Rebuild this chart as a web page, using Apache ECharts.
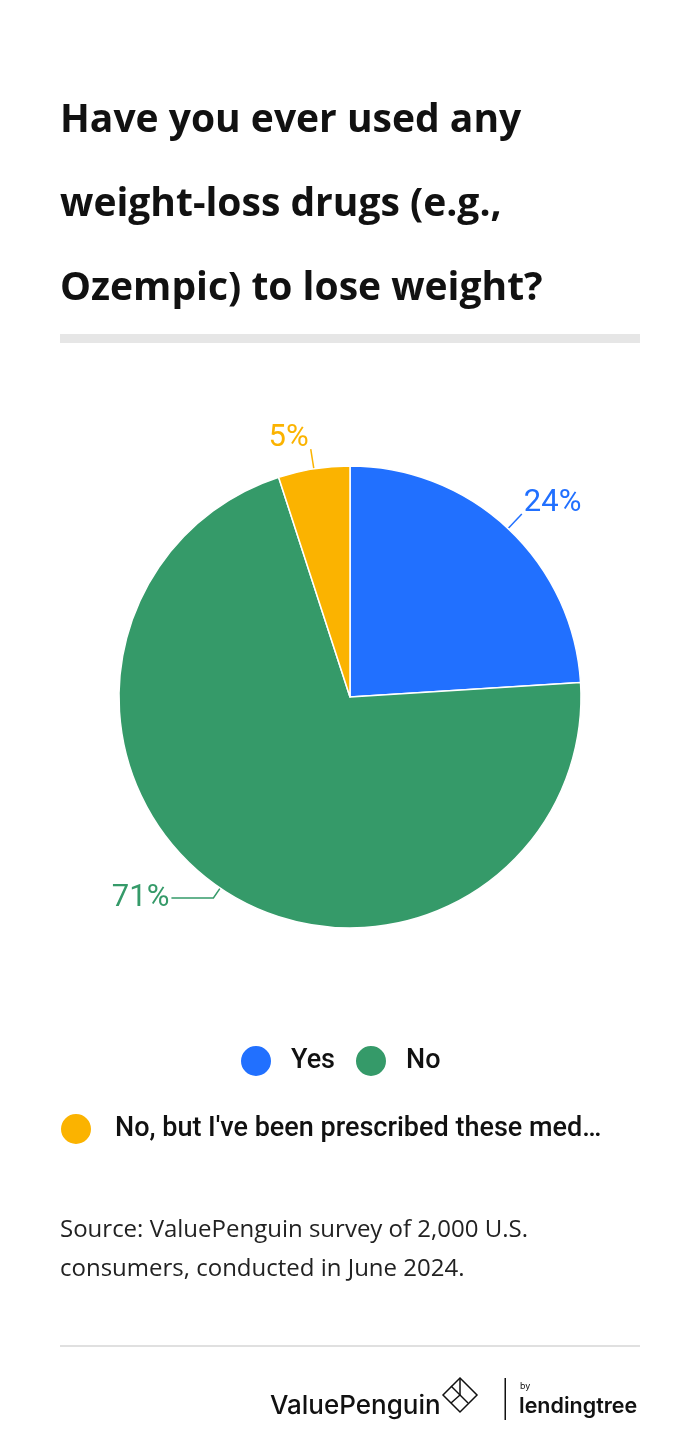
<!DOCTYPE html>
<html><head><meta charset="utf-8">
<script src="https://cdn.jsdelivr.net/npm/echarts@6/dist/echarts.min.js"></script>
<style>html,body{margin:0;padding:0;background:#fff}#c{width:700px;height:1456px}</style>
</head><body><div id="c"></div>
<script>
const titleLines = ["Have you ever used any", "weight-loss drugs (e.g.,", "Ozempic) to lose weight?"];
const categories = ["Yes", "No", "No, but I've been prescribed these medications"];
const values = [24, 71, 5];
const colors = ["#2170FF", "#359A69", "#FBB300"];
const sourceLines = ["Source: ValuePenguin survey of 2,000 U.S.", "consumers, conducted in June 2024."];

const lineCfg = [
  {length: 20, length2: 0},
  {length: 12, length2: 42},
  {length: 20, length2: 0}
];
const raiseLabel = [true, false, true];

const chart = echarts.init(document.getElementById('c'), null, {renderer: 'canvas'});

const graphics = [];
titleLines.forEach((t, i) => {
  graphics.push({type: 'text', left: 60, top: 101 + i * 84,
    style: {text: t, font: 'bold 39px "Open Sans"', fill: '#111'}});
});
graphics.push({type: 'rect', shape: {x: 60, y: 334, width: 580, height: 9}, style: {fill: '#E6E6E6'}});
sourceLines.forEach((t, i) => {
  graphics.push({type: 'text', left: 60, top: 1218 + i * 39,
    style: {text: t, font: '24px "Open Sans"', fill: '#222'}});
});
graphics.push({type: 'rect', shape: {x: 60, y: 1345, width: 580, height: 2}, style: {fill: '#E0E0E0'}});
// logo
graphics.push({type: 'text', left: 270, top: 1393,
  style: {text: 'ValuePenguin', font: '500 26px Inter', fill: '#111'}});
graphics.push({type: 'polygon', shape: {points: [[460,1378],[477,1395],[460,1412],[443,1395]]},
  style: {fill: 'none', stroke: '#111', lineWidth: 1.5}});
graphics.push({type: 'polyline', shape: {points: [[451,1386],[468,1403]]}, style: {stroke: '#111', lineWidth: 1.5}});
graphics.push({type: 'polyline', shape: {points: [[460,1378],[460,1395],[451,1403]]}, style: {stroke: '#111', lineWidth: 1.5, fill: 'none'}});
graphics.push({type: 'rect', shape: {x: 504.5, y: 1378, width: 1.5, height: 42}, style: {fill: '#111'}});
graphics.push({type: 'text', left: 520, top: 1382, style: {text: 'by', font: '9px Inter', fill: '#111'}});
graphics.push({type: 'text', left: 519, top: 1396, style: {text: 'lendingtree', font: '600 21.5px Inter', fill: '#111'}});

chart.setOption({
  animation: false,
  backgroundColor: '#fff',
  graphic: graphics,
  legend: [
    {data: categories.slice(0, 2), left: 234, top: 1039, icon: 'circle',
     itemWidth: 32, itemHeight: 32, itemGap: 19,
     textStyle: {fontFamily: 'Roboto', fontWeight: 500, fontSize: 27, color: '#111', padding: [0, 0, 0, 14]}},
    {data: categories.slice(2), left: 54, top: 1107, icon: 'circle',
     itemWidth: 32, itemHeight: 32,
     textStyle: {fontFamily: 'Roboto', fontWeight: 500, fontSize: 27, color: '#111', padding: [0, 0, 0, 18],
       width: 492, overflow: 'truncate', ellipsis: '…'}}
  ],
  series: [{
    type: 'pie',
    center: [350, 697],
    radius: 231,
    startAngle: 90,
    clockwise: true,
    avoidLabelOverlap: false,
    itemStyle: {borderColor: '#fff', borderWidth: 1.5},
    label: {show: true, position: 'outside', fontFamily: 'Roboto', fontSize: 31, lineHeight: 22,
      formatter: p => p.value + '%' + (raiseLabel[p.dataIndex] ? '\n ' : ''), distanceToLabelLine: 2},
    labelLine: {show: true, lineStyle: {width: 1.5}},
    data: categories.map((c, i) => ({
      name: c, value: values[i],
      itemStyle: {color: colors[i]},
      label: {color: colors[i]},
      labelLine: lineCfg[i]
    }))
  }]
});
</script></body></html>
